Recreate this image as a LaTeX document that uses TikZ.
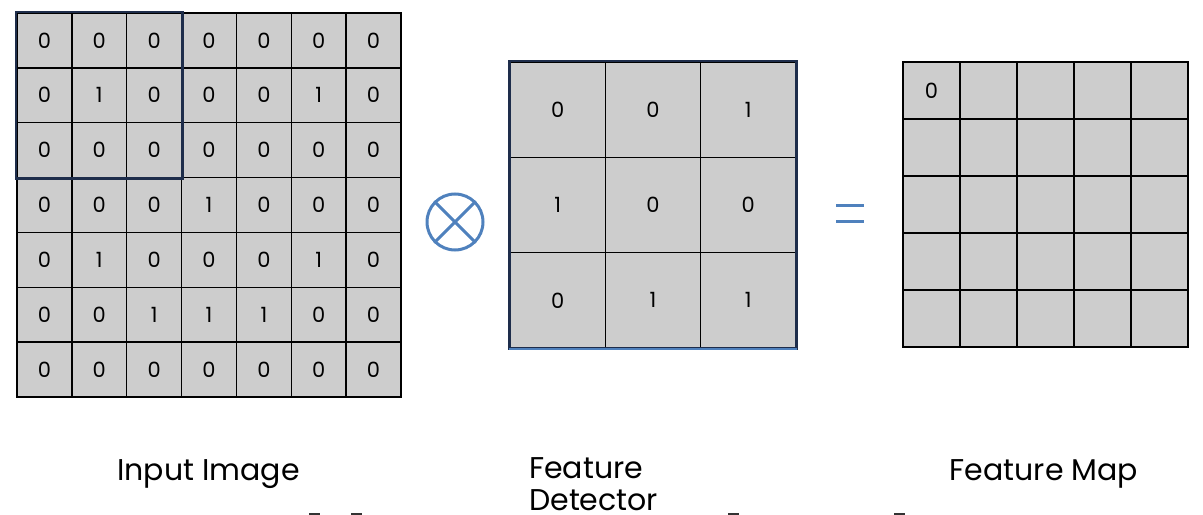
\documentclass[tikz,border=0pt]{standalone}
\usepackage{fontspec}
\setmainfont{Poppins}
\usepackage{tikz}
\usetikzlibrary{positioning}
\definecolor{cellgray}{RGB}{205,205,205}
\definecolor{opblue}{RGB}{79,129,189}
\definecolor{navy}{RGB}{30,45,75}
\tikzstyle{incell} = [rectangle, draw, line width=1.5bp, fill=cellgray, minimum size=54.86bp, inner sep=0pt, font=\fontsize{21bp}{24bp}\selectfont]
\tikzstyle{detcell} = [rectangle, draw, line width=1.5bp, fill=cellgray, minimum size=95.33bp, inner sep=0pt, font=\fontsize{21bp}{24bp}\selectfont]
\tikzstyle{mapcell} = [rectangle, draw, line width=1.5bp, fill=cellgray, minimum size=57bp, inner sep=0pt, font=\fontsize{21bp}{24bp}\selectfont]
\tikzstyle{caption} = [inner sep=0pt, text depth=0pt, font=\fontsize{30bp}{36bp}\selectfont]
\tikzstyle{window} = [draw=navy, line width=2.5bp]
\tikzstyle{op} = [draw=opblue, line width=3bp]
\tikzstyle{tick} = [draw=black!80, line width=1.5bp]

\begin{document}
\begin{tikzpicture}[x=1bp, y=-1bp]
  \useasboundingbox (0,0) rectangle (1203,515);

  % input image 7x7
  \foreach \row [count=\r from 0] in {{0,0,0,0,0,0,0},{0,1,0,0,0,1,0},{0,0,0,0,0,0,0},{0,0,0,1,0,0,0},{0,1,0,0,0,1,0},{0,0,1,1,1,0,0},{0,0,0,0,0,0,0}}
    \foreach \v [count=\c from 0] in \row
      \node[incell] (in-\r-\c) at ({17+54.86*(\c+0.5)},{13+54.86*(\r+0.5)}) {\v};
  \draw[window] (in-0-0.north west) rectangle (in-2-2.south east);

  % operator
  \node[circle, op, minimum size=56bp, inner sep=0pt] (times) at (455,222) {};
  \draw[op] (times.north west) -- (times.south east);
  \draw[op] (times.north east) -- (times.south west);

  % feature detector 3x3
  \foreach \row [count=\r from 0] in {{0,0,1},{1,0,0},{0,1,1}}
    \foreach \v [count=\c from 0] in \row
      \node[detcell] (det-\r-\c) at ({510+95.33*(\c+0.5)},{62+95.33*(\r+0.5)}) {\v};
  \draw[window] (det-0-0.north west) rectangle (det-2-2.south east);
  \draw[op, line width=2bp] (det-2-0.south west) -- (det-2-2.south east);

  % equals
  \coordinate (eqa) at (836,206);
  \coordinate (eqb) at (864,206);
  \coordinate (eqc) at (836,222);
  \coordinate (eqd) at (864,222);
  \draw[op] (eqa) -- (eqb);
  \draw[op] (eqc) -- (eqd);

  % feature map 5x5
  \foreach \r in {0,...,4}
    \foreach \c in {0,...,4}
      \node[mapcell] (map-\r-\c) at ({903+57*(\c+0.5)},{62+57*(\r+0.5)}) {};
  \node[font=\fontsize{21bp}{24bp}\selectfont] (mapval) at (map-0-0) {0};

  % captions
  \node[caption, anchor=base] (inlabel) at (208.5,480) {Input Image};
  \node[caption, anchor=base west] (detlabel) at (529,478) {Feature};
  \node[caption, anchor=base west] (detlabel2) at (529,510) {Detector};
  \node[caption, anchor=base] (maplabel) at (1044,480) {Feature Map};

  \draw[tick] (309,514) -- (320,514);
  \draw[tick] (351,514) -- (362,514);
  \draw[tick] (728,514) -- (739,514);
  \draw[tick] (894,514) -- (905,514);

\end{tikzpicture}
\end{document}
